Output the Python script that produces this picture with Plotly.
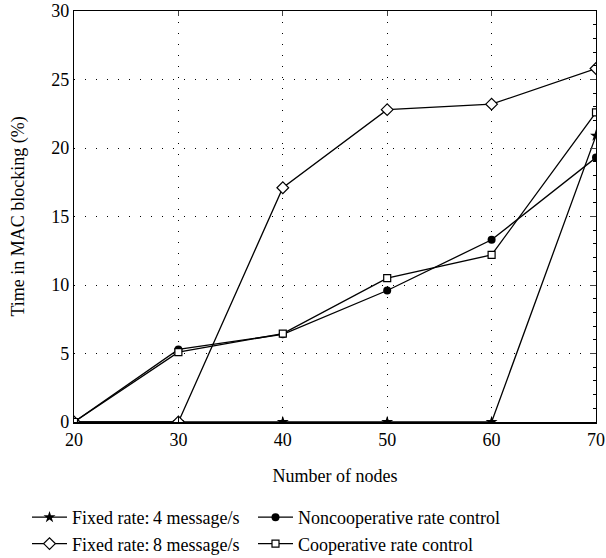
import plotly.graph_objects as go

nodes = [20, 30, 40, 50, 60, 70]
fixed4 = [0, 0, 0, 0, 0, 20.9]
fixed8 = [0, 0, 17.1, 22.8, 23.2, 25.8]
noncoop = [0, 5.3, 6.4, 9.6, 13.3, 19.3]
coop = [0, 5.1, 6.45, 10.5, 12.2, 22.6]

FONT = "Liberation Serif"

fig = go.Figure()
common = dict(mode="lines+markers", line=dict(color="black", width=1.3))
fig.add_trace(go.Scatter(x=nodes, y=fixed4, name="Fixed rate:\u20094 message/s", legend="legend",
                         marker=dict(symbol="star", size=9, color="black"), **common))
fig.add_trace(go.Scatter(x=nodes, y=fixed8, name="Fixed rate:\u20098 message/s", legend="legend",
                         marker=dict(symbol="diamond", size=9, color="white",
                                     line=dict(color="black", width=1.2)), **common))
fig.add_trace(go.Scatter(x=nodes, y=noncoop, name="Noncooperative rate control", legend="legend2",
                         marker=dict(symbol="circle", size=8, color="black"), **common))
fig.add_trace(go.Scatter(x=nodes, y=coop, name="Cooperative rate control", legend="legend2",
                         marker=dict(symbol="square", size=7, color="white",
                                     line=dict(color="black", width=1.2)), **common))
# helper invisible trace for mirrored axes
fig.add_trace(go.Scatter(x=[20, 70], y=[0, 30], xaxis="x2", yaxis="y2", mode="markers",
                         marker=dict(opacity=0), showlegend=False, hoverinfo="skip"))

leg = dict(orientation="v", xref="container", yref="container", y=1 - 499 / 558,
           xanchor="left", yanchor="top", font=dict(size=18), tracegroupgap=0,
           itemwidth=35, bgcolor="rgba(0,0,0,0)")

fig.update_layout(
    width=606, height=558,
    margin=dict(l=74, r=10, t=11, b=136, autoexpand=False),
    plot_bgcolor="white", paper_bgcolor="white",
    font=dict(family=FONT, size=18, color="black"),
    showlegend=True,
    legend=dict(x=27 / 606, **leg),
    legend2=dict(x=253 / 606, **leg),
    xaxis=dict(range=[20, 70], dtick=10, tick0=20, showline=True, linewidth=2.2, linecolor="black",
               ticks="inside", ticklen=5, tickcolor="black",
               showgrid=True, gridcolor="black", gridwidth=1, griddash="1px,10px",
               zeroline=False,
               title=dict(text="Number of nodes", font=dict(size=18), standoff=21)),
    yaxis=dict(range=[0, 30], dtick=5, showline=True, linewidth=1.3, linecolor="black",
               ticks="", showgrid=True, gridcolor="black", gridwidth=1, griddash="1px,10px",
               zeroline=False),
    xaxis2=dict(range=[20, 70], dtick=10, tick0=20, overlaying="x", side="top",
                showline=True, linewidth=1.3, linecolor="black", ticks="inside", ticklen=5,
                showticklabels=False, showgrid=False, zeroline=False),
    yaxis2=dict(range=[0, 30], dtick=5, overlaying="y", side="right",
                showline=True, linewidth=1.3, linecolor="black", ticks="inside", ticklen=6,
                showticklabels=False, showgrid=False, zeroline=False,
                minor=dict(dtick=1, ticks="inside", ticklen=3, tickcolor="black", showgrid=False)),
    annotations=[dict(text="Time in MAC blocking (%)", xref="paper", yref="paper",
                      x=(18 - 74) / 522, y=0.5, textangle=-90, showarrow=False,
                      xanchor="center", yanchor="middle", font=dict(size=18))],
)

fig.write_html("out.html", config={"displayModeBar": False},
               post_script="document.body.style.margin='0';document.body.style.overflow='hidden';")
